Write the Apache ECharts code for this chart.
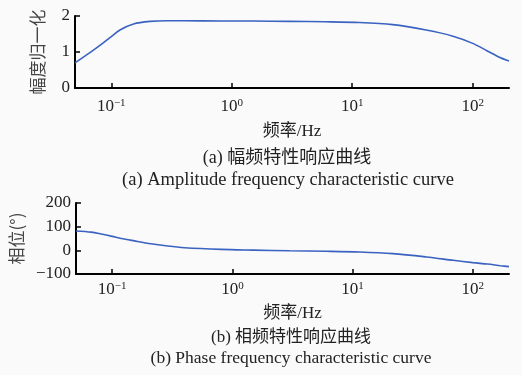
<!DOCTYPE html>
<html>
<head>
<meta charset="utf-8">
<script src="https://cdn.jsdelivr.net/npm/echarts@6/dist/echarts.min.js"></script>
<style>
  html, body { margin: 0; padding: 0; background: #fff; }
  #main { width: 522px; height: 375px; }
</style>
</head>
<body>
<div id="main"></div>
<script>
// frequency (Hz) points
const freqs = [0.05, 0.067, 0.081, 0.1, 0.119, 0.153, 0.21, 0.29, 0.4, 0.81, 1.5, 3, 6, 11.4, 21.7, 41, 68.6, 100, 132, 170, 200]
// normalised amplitude
const amplitude = [0.70, 0.99, 1.19, 1.43, 1.62, 1.78, 1.85, 1.87, 1.87, 1.86, 1.86, 1.85, 1.84, 1.82, 1.76, 1.61, 1.44, 1.24, 1.03, 0.84, 0.75]
// phase in degrees
const phase = [82, 77, 69, 59, 50, 40, 28, 18, 11, 4, 1, -2, -4, -7, -14, -28, -42, -52, -58, -65, -69]
const xTicks = [0.1, 1, 10, 100]
const ampTicks = [0, 1, 2]
const phaseTicks = [-100, 0, 100, 200]

const serif = 'Liberation Serif, Noto Sans CJK SC'
const lineColor = '#3a62c0'

function pairs(ys) {
  return freqs.map((f, i) => [f, ys[i]])
}

function xAxisCfg(gridIndex, gap, margin) {
  return {
    type: 'log',
    logBase: 10,
    gridIndex: gridIndex,
    min: 0.05,
    max: 200,
    name: '频率/Hz',
    nameLocation: 'middle',
    nameGap: gap,
    nameTextStyle: { fontFamily: serif, fontSize: 17, color: '#222' },
    axisLine: { onZero: false, lineStyle: { color: '#000', width: 2 } },
    axisTick: { inside: true, length: 5, lineStyle: { color: '#000', width: 1.5 }, customValues: xTicks },
    splitLine: { show: false },
    minorTick: { show: false },
    axisLabel: {
      customValues: xTicks,
      margin: margin,
      color: '#222',
      fontFamily: serif,
      fontSize: 16,
      formatter: function (v) {
        const e = Math.round(Math.log10(v))
        return '{b|10}{s|' + (e < 0 ? '\u2212' + (-e) : e) + '}'
      },
      rich: {
        b: { fontFamily: serif, fontSize: 17, color: '#222', lineHeight: 18 },
        s: { fontFamily: serif, fontSize: 11, color: '#222', verticalAlign: 'top', lineHeight: 18, padding: [0, 0, 8, 0] }
      }
    }
  }
}

function yAxisCfg(gridIndex, name, ticks, gap) {
  return {
    type: 'value',
    gridIndex: gridIndex,
    min: ticks[0],
    max: ticks[ticks.length - 1],
    interval: ticks[1] - ticks[0],
    name: name,
    nameLocation: 'middle',
    nameGap: gap,
    nameTextStyle: { fontFamily: 'Noto Sans CJK SC', fontSize: 17, color: '#444' },
    axisLine: { show: true, onZero: false, lineStyle: { color: '#000', width: 2 } },
    axisTick: { show: true, inside: true, length: 5, lineStyle: { color: '#000', width: 1.5 } },
    splitLine: { show: false },
    axisLabel: {
      margin: 5,
      color: '#222',
      fontFamily: serif,
      fontSize: 17,
      formatter: v => (v < 0 ? '\u2212' + (-v) : '' + v)
    }
  }
}

const chart = echarts.init(document.getElementById('main'))
chart.setOption({
  backgroundColor: '#fafafa',
  animation: false,
  grid: [
    { left: 75, top: 16, width: 434, height: 72 },
    { left: 75, top: 203, width: 434, height: 71 }
  ],
  xAxis: [xAxisCfg(0, 35, 10), xAxisCfg(1, 31, 7)],
  yAxis: [
    yAxisCfg(0, '幅度归一化', ampTicks, 29),
    yAxisCfg(1, '相位(°)', phaseTicks, 40)
  ],
  series: [
    {
      type: 'line', xAxisIndex: 0, yAxisIndex: 0, data: pairs(amplitude),
      smooth: 0.3, showSymbol: false, lineStyle: { color: lineColor, width: 1.6 }
    },
    {
      type: 'line', xAxisIndex: 1, yAxisIndex: 1, data: pairs(phase),
      smooth: 0.3, showSymbol: false, lineStyle: { color: lineColor, width: 1.6 }
    }
  ],
  graphic: [
    { type: 'text', x: 287, y: 158, style: { text: '(a) 幅频特性响应曲线', font: '18px ' + serif, fill: '#222', align: 'center', verticalAlign: 'middle' } },
    { type: 'text', x: 288, y: 180, style: { text: '(a) Amplitude frequency characteristic curve', font: '18.5px ' + serif, fill: '#222', align: 'center', verticalAlign: 'middle' } },
    { type: 'text', x: 291, y: 338, style: { text: '(b) 相频特性响应曲线', font: '17px ' + serif, fill: '#222', align: 'center', verticalAlign: 'middle' } },
    { type: 'text', x: 291, y: 358, style: { text: '(b) Phase frequency characteristic curve', font: '17.5px ' + serif, fill: '#222', align: 'center', verticalAlign: 'middle' } }
  ]
})
</script>
</body>
</html>
